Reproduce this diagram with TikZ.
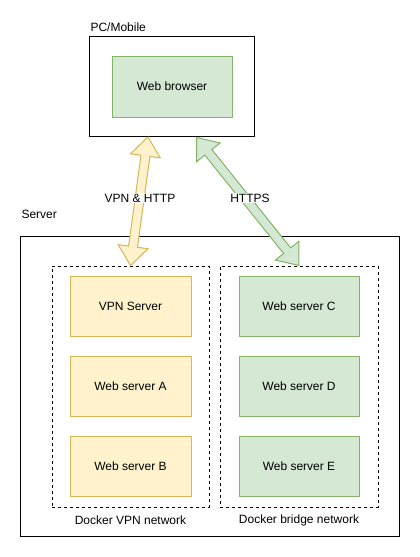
\documentclass[tikz,border=0pt]{standalone}
\usepackage{fontspec}
\setmainfont{Liberation Sans}
\usetikzlibrary{calc,positioning}

\definecolor{greenfill}{HTML}{D5E8D4}
\definecolor{greenline}{HTML}{82B366}
\definecolor{yellowfill}{HTML}{FFF2CC}
\definecolor{yellowline}{HTML}{D6B656}

% block arrow with a head at both ends, from #2 to #3
\newcommand\flexarrow[3]{%
  \draw[#1] let \p1=(#2), \p2=(#3), \n1={atan2(\y2-\y1,\x2-\x1)}, \n2={veclen(\x2-\x1,\y2-\y1)} in
    [shift={(\p1)}, rotate=\n1]
    (0pt,0pt) -- (19pt,15pt) -- (19pt,4.5pt) -- (\n2-19pt,4.5pt) -- (\n2-19pt,15pt)
    -- (\n2,0pt) -- (\n2-19pt,-15pt) -- (\n2-19pt,-4.5pt) -- (19pt,-4.5pt) -- (19pt,-15pt) -- cycle;}

\begin{document}
\begin{tikzpicture}[x=1pt, y=-1pt, line width=1pt,
    every node/.style={font=\fontsize{12}{14}\selectfont, inner sep=0pt},
    frame/.style={draw, minimum width=#1},
    net/.style={draw, dash pattern=on 3pt off 3pt, minimum height=241, minimum width=#1},
    ybox/.style={draw=yellowline, fill=yellowfill, minimum width=121, minimum height=60},
    gbox/.style={draw=greenline, fill=greenfill, minimum width=120, minimum height=60},
    tag/.style={fill=white, inner sep=1pt}]
  \useasboundingbox (0,0) rectangle (420,557);

  % PC / mobile
  \node[frame=165, minimum height=100] (pc) at (171.5,86) {};
  \node[anchor=south west] (pclabel) at (90,32) {PC/Mobile};
  \node[gbox, minimum height=61] (browser) at (172,86.5) {Web browser};

  % server
  \node[frame=379, minimum height=300] (server) at (209.5,386) {};
  \node[anchor=west] (serverlabel) at (21,214) {Server};

  \node[net=157] (vpn) at (130.5,386.5) {};
  \node[net=158] (bridge) at (299,386.5) {};
  \node (vpnlabel) at (130.5,520) {Docker VPN network};
  \node (bridgelabel) at (299,520) {Docker bridge network};

  \node[ybox] (vpnserver) at (130.5,306) {VPN Server};
  \node[ybox] (webA) at (130.5,386) {Web server A};
  \node[ybox] (webB) at (130.5,466) {Web server B};
  \node[gbox] (webC) at (299,306) {Web server C};
  \node[gbox] (webD) at (299,386) {Web server D};
  \node[gbox] (webE) at (299,466) {Web server E};

  % connections
  \coordinate (pcvpn) at (148,137);
  \coordinate (pchttps) at (196.5,137.5);
  \flexarrow{draw=yellowline, fill=yellowfill}{vpn.north}{pcvpn}
  \flexarrow{draw=greenline, fill=greenfill}{pchttps}{bridge.north}
  \node[tag] (vpnhttp) at (140,198) {VPN \& HTTP};
  \node[tag] (https) at (250,198) {HTTPS};
\end{tikzpicture}
\end{document}
